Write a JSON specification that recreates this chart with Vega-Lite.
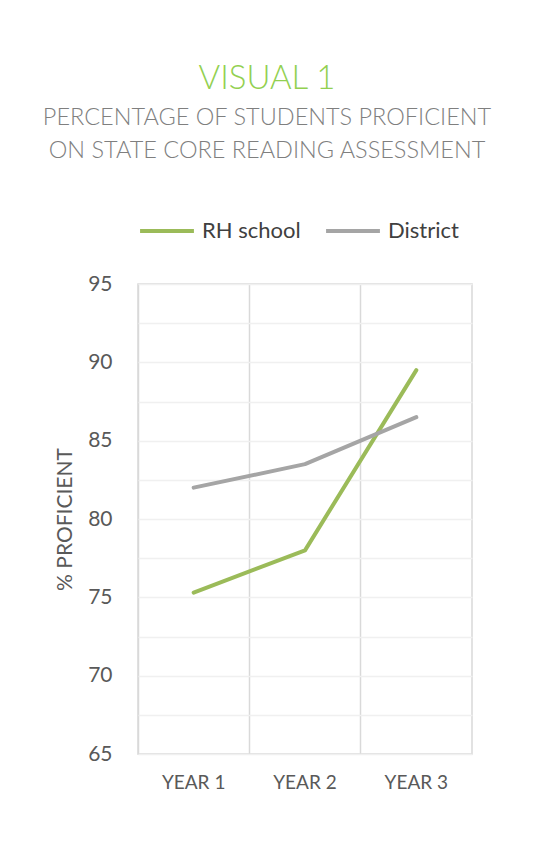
{
  "$schema": "https://vega.github.io/schema/vega-lite/v6.json",
  "autosize": {"type": "none"},
  "padding": {"left": 138, "top": 284, "right": 65, "bottom": 89},
  "width": 334,
  "height": 470,
  "background": "white",
  "title": {
    "text": "VISUAL 1",
    "subtitle": ["PERCENTAGE OF STUDENTS PROFICIENT", "ON STATE CORE READING ASSESSMENT"],
    "anchor": "middle",
    "frame": "group",
    "dx": -38,
    "offset": 40,
    "font": "Lato",
    "fontSize": 33,
    "fontWeight": 300,
    "color": "#92D050",
    "subtitleFont": "Lato",
    "subtitleFontSize": 23.5,
    "subtitleFontWeight": 300,
    "subtitleColor": "#7F7F7F",
    "subtitleLineHeight": 33,
    "subtitlePadding": 10
  },
  "config": {
    "view": {"stroke": "#D9D9D9", "strokeWidth": 1.5},
    "font": "Lato"
  },
  "data": {
    "values": [
      {"year": "YEAR 1", "series": "RH school", "value": 75.3},
      {"year": "YEAR 2", "series": "RH school", "value": 78.0},
      {"year": "YEAR 3", "series": "RH school", "value": 89.5},
      {"year": "YEAR 1", "series": "District", "value": 82.0},
      {"year": "YEAR 2", "series": "District", "value": 83.5},
      {"year": "YEAR 3", "series": "District", "value": 86.5}
    ]
  },
  "mark": {"type": "line", "strokeWidth": 4, "strokeCap": "round", "strokeJoin": "round"},
  "encoding": {
    "x": {
      "field": "year",
      "type": "ordinal",
      "sort": ["YEAR 1", "YEAR 2", "YEAR 3"],
      "scale": {"type": "band", "paddingInner": 0, "paddingOuter": 0},
      "axis": {
        "title": null,
        "labelAngle": 0,
        "labelFont": "Lato",
        "labelFontSize": 19,
        "labelColor": "#595959",
        "labelPadding": 19,
        "domain": false,
        "ticks": false,
        "grid": true,
        "bandPosition": 0,
        "gridColor": "#D9D9D9",
        "gridWidth": 1.5
      }
    },
    "y": {
      "field": "value",
      "type": "quantitative",
      "scale": {"domain": [65, 95], "nice": false, "zero": false},
      "axis": {
        "title": "% PROFICIENT",
        "titleFont": "Lato",
        "titleFontSize": 21,
        "titleFontWeight": "normal",
        "titleColor": "#595959",
        "titlePadding": 12,
        "values": [65, 67.5, 70, 72.5, 75, 77.5, 80, 82.5, 85, 87.5, 90, 92.5, 95],
        "labelExpr": "datum.value % 5 === 0 ? datum.label : ''",
        "labelFont": "Lato",
        "labelFontSize": 21,
        "labelColor": "#595959",
        "labelPadding": 26,
        "domain": false,
        "ticks": false,
        "grid": true,
        "gridColor": "#F0F0F0",
        "gridWidth": 1.5
      }
    },
    "color": {
      "field": "series",
      "type": "nominal",
      "scale": {"domain": ["RH school", "District"], "range": ["#9BBB59", "#A5A5A5"]},
      "legend": {
        "title": null,
        "orient": "top",
        "direction": "horizontal",
        "symbolType": "stroke",
        "symbolStrokeWidth": 4,
        "symbolSize": 2900,
        "labelFont": "Lato",
        "labelFontSize": 22,
        "labelColor": "#404040",
        "labelOffset": 6,
        "columnPadding": 17,
        "offset": 42
      }
    }
  }
}
